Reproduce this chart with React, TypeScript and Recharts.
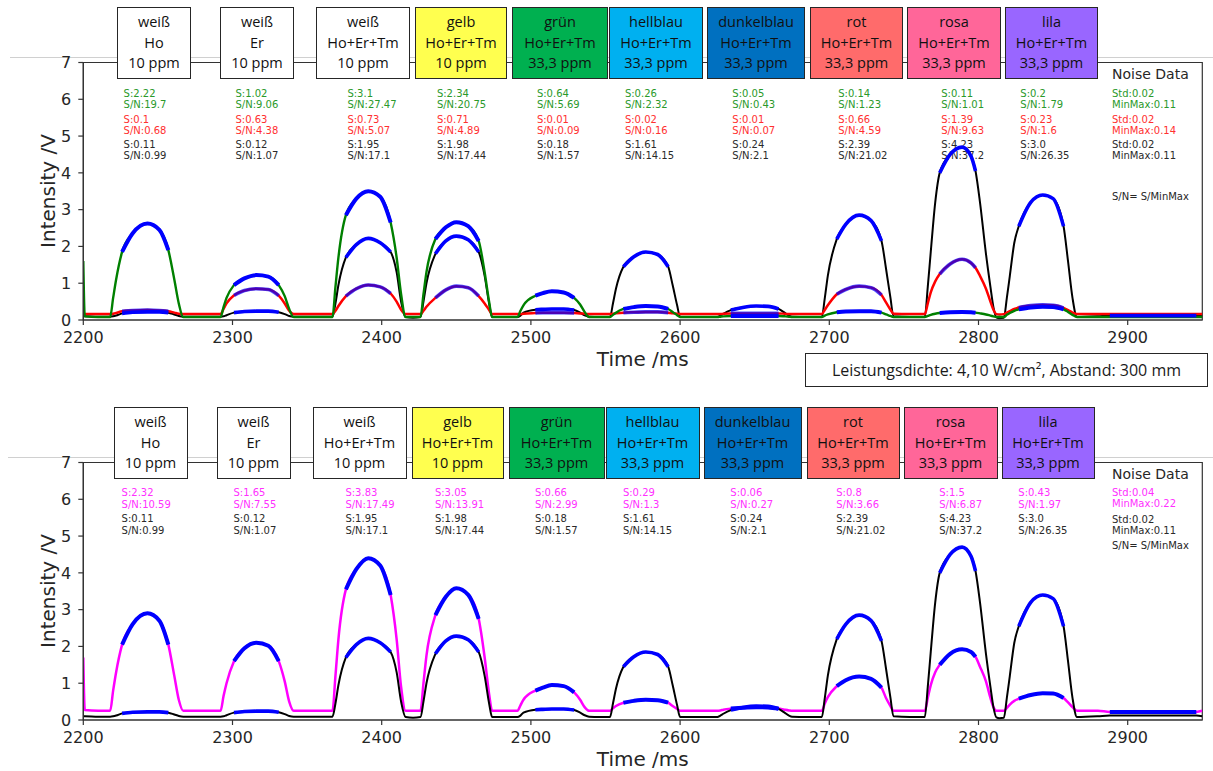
import React from 'react';
import { LineChart, Line, XAxis, YAxis, ReferenceArea } from 'recharts';

// ---------------- data ----------------
const TIME = [
  2200, 2201, 2210,
  2218, 2220, 2222, 2226, 2233, 2243, 2251, 2257, 2261, 2264, 2267,
  2280,
  2292, 2294, 2296, 2301, 2308, 2316, 2324, 2331, 2335, 2338, 2341,
  2355,
  2367, 2369, 2371, 2376, 2383, 2391, 2399, 2406, 2410, 2413, 2416,
  2421,
  2426, 2428, 2430, 2436, 2443, 2450, 2458, 2465, 2469, 2472, 2474,
  2483,
  2491, 2493, 2495, 2503, 2508, 2514, 2522, 2529, 2533, 2536, 2539,
  2546,
  2553, 2555, 2557, 2562, 2569, 2577, 2585, 2592, 2595, 2598, 2600,
  2612,
  2625, 2627, 2629, 2634, 2642, 2651, 2659, 2666, 2670, 2673, 2675,
  2685,
  2695, 2697, 2699, 2705, 2711, 2720, 2728, 2735, 2738, 2741, 2743,
  2754,
  2764, 2766, 2768, 2771, 2774, 2781, 2789, 2795, 2798, 2801, 2805, 2808, 2810, 2812,
  2814,
  2817, 2819, 2821, 2824, 2827, 2835, 2843, 2850, 2857, 2860, 2863, 2866,
  2880, 2888, 2900, 2920, 2946, 2950,
];

const GREEN = [
  1.6, 0.1, 0.08,
  0.08, 0.6, 1.1, 1.85, 2.35, 2.62, 2.45, 1.9, 1.1, 0.45, 0.08,
  0.08,
  0.08, 0.35, 0.6, 0.95, 1.13, 1.22, 1.18, 0.95, 0.65, 0.3, 0.08,
  0.08,
  0.08, 0.9, 1.7, 2.85, 3.3, 3.5, 3.35, 2.65, 1.7, 0.7, 0.08,
  0.08,
  0.08, 0.7, 1.3, 2.2, 2.52, 2.66, 2.55, 2.15, 1.3, 0.5, 0.08,
  0.08,
  0.08, 0.25, 0.4, 0.66, 0.73, 0.78, 0.75, 0.6, 0.42, 0.22, 0.08,
  0.08,
  0.08, 0.14, 0.2, 0.3, 0.35, 0.38, 0.37, 0.3, 0.22, 0.13, 0.08,
  0.08,
  0.08, 0.09, 0.1, 0.11, 0.11, 0.11, 0.11, 0.11, 0.1, 0.09, 0.08,
  0.08,
  0.08, 0.12, 0.15, 0.21, 0.23, 0.24, 0.24, 0.2, 0.15, 0.11, 0.08,
  0.08,
  0.08, 0.11, 0.14, 0.17, 0.19, 0.21, 0.22, 0.21, 0.2, 0.18, 0.15, 0.12, 0.1, 0.08,
  0.08,
  0.08, 0.14, 0.19, 0.25, 0.29, 0.34, 0.36, 0.35, 0.29, 0.22, 0.14, 0.08,
  0.08, 0.08, 0.08, 0.08, 0.08, 0.08,
];

const RED = [
  0.16, 0.16, 0.16,
  0.16, 0.17, 0.19, 0.24, 0.26, 0.27, 0.26, 0.24, 0.2, 0.17, 0.16,
  0.16,
  0.16, 0.3, 0.45, 0.67, 0.8, 0.85, 0.83, 0.66, 0.45, 0.25, 0.16,
  0.16,
  0.16, 0.25, 0.38, 0.65, 0.85, 0.95, 0.9, 0.72, 0.5, 0.28, 0.16,
  0.16,
  0.16, 0.25, 0.36, 0.6, 0.82, 0.92, 0.88, 0.65, 0.45, 0.27, 0.16,
  0.16,
  0.16, 0.16, 0.17, 0.19, 0.2, 0.2, 0.2, 0.19, 0.18, 0.17, 0.16,
  0.16,
  0.16, 0.17, 0.18, 0.2, 0.21, 0.22, 0.22, 0.2, 0.18, 0.17, 0.16,
  0.16,
  0.16, 0.16, 0.17, 0.18, 0.18, 0.18, 0.18, 0.18, 0.17, 0.16, 0.16,
  0.16,
  0.16, 0.28, 0.4, 0.7, 0.83, 0.92, 0.88, 0.68, 0.48, 0.28, 0.17,
  0.16,
  0.16, 0.45, 0.75, 1.05, 1.25, 1.52, 1.65, 1.55, 1.42, 1.2, 0.85, 0.5, 0.28, 0.16,
  0.15,
  0.16, 0.2, 0.24, 0.3, 0.34, 0.39, 0.41, 0.4, 0.33, 0.27, 0.2, 0.16,
  0.16, 0.16, 0.16, 0.16, 0.16, 0.16,
];

const BLACK = [
  0.1, 0.1, 0.09,
  0.09, 0.1, 0.12, 0.18, 0.21, 0.22, 0.22, 0.2, 0.15, 0.11, 0.09,
  0.09,
  0.09, 0.1, 0.13, 0.2, 0.23, 0.24, 0.24, 0.21, 0.16, 0.11, 0.09,
  0.09,
  0.09, 0.45, 0.95, 1.7, 2.05, 2.22, 2.1, 1.85, 1.3, 0.5, 0.08,
  0.06,
  0.08, 0.5, 1.0, 1.8, 2.15, 2.28, 2.18, 1.85, 1.2, 0.45, 0.08,
  0.08,
  0.08, 0.12, 0.2, 0.28, 0.29, 0.3, 0.3, 0.27, 0.2, 0.13, 0.09,
  0.08,
  0.08, 0.45, 0.85, 1.45, 1.72, 1.85, 1.78, 1.45, 0.95, 0.4, 0.08,
  0.08,
  0.08, 0.12, 0.17, 0.27, 0.34, 0.38, 0.37, 0.3, 0.2, 0.12, 0.09,
  0.08,
  0.08, 0.6, 1.2, 2.2, 2.6, 2.85, 2.7, 2.15, 1.4, 0.6, 0.1,
  0.08,
  0.08, 0.9, 1.85, 3.2, 4.0, 4.5, 4.7, 4.45, 4.05, 3.2, 1.8, 0.9, 0.35, 0.07,
  0.05,
  0.06, 0.6, 1.2, 2.1, 2.55, 3.2, 3.4, 3.3, 2.55, 1.6, 0.6, 0.08,
  0.1, 0.12, 0.12, 0.12, 0.12, 0.1,
];

const MAGENTA = [
  1.7, 0.27, 0.25,
  0.25, 0.8, 1.3, 2.05, 2.6, 2.9, 2.7, 2.05, 1.2, 0.55, 0.25,
  0.25,
  0.25, 0.65, 1.0, 1.6, 1.95, 2.1, 2.02, 1.6, 1.05, 0.5, 0.25,
  0.25,
  0.25, 1.2, 2.2, 3.55, 4.1, 4.4, 4.2, 3.4, 2.2, 0.9, 0.25,
  0.25,
  0.25, 1.0, 1.75, 2.85, 3.35, 3.58, 3.4, 2.75, 1.7, 0.7, 0.25,
  0.25,
  0.25, 0.4, 0.55, 0.8, 0.88, 0.95, 0.92, 0.75, 0.55, 0.35, 0.25,
  0.25,
  0.25, 0.32, 0.38, 0.47, 0.52, 0.55, 0.54, 0.47, 0.38, 0.3, 0.25,
  0.25,
  0.25, 0.26, 0.28, 0.31, 0.33, 0.35, 0.34, 0.31, 0.28, 0.26, 0.25,
  0.25,
  0.25, 0.45, 0.62, 0.92, 1.08, 1.18, 1.12, 0.88, 0.6, 0.38, 0.25,
  0.25,
  0.25, 0.6, 0.95, 1.3, 1.5, 1.8, 1.92, 1.85, 1.72, 1.45, 1.05, 0.6, 0.35, 0.25,
  0.25,
  0.25, 0.33, 0.42, 0.52, 0.58, 0.68, 0.73, 0.72, 0.6, 0.48, 0.35, 0.25,
  0.25, 0.22, 0.22, 0.22, 0.22, 0.25,
];

// measurement windows (signal) and noise window, ms
const WINDOWS = [
  [2226, 2257], [2301, 2331], [2376, 2406], [2436, 2465], [2503, 2529],
  [2562, 2592], [2634, 2666], [2705, 2735], [2774, 2798], [2827, 2857],
];
const NOISE_WINDOW = [2888, 2946];

const X_TICKS = [2200, 2300, 2400, 2500, 2600, 2700, 2800, 2900];
const Y_TICKS = [0, 1, 2, 3, 4, 5, 6, 7];

// sample boxes
const SAMPLE_NAME = ['weiß', 'weiß', 'weiß', 'gelb', 'grün', 'hellblau', 'dunkelblau', 'rot', 'rosa', 'lila'];
const SAMPLE_MIX = ['Ho', 'Er', 'Ho+Er+Tm', 'Ho+Er+Tm', 'Ho+Er+Tm', 'Ho+Er+Tm', 'Ho+Er+Tm', 'Ho+Er+Tm', 'Ho+Er+Tm', 'Ho+Er+Tm'];
const SAMPLE_CONC = ['10 ppm', '10 ppm', '10 ppm', '10 ppm', '33,3 ppm', '33,3 ppm', '33,3 ppm', '33,3 ppm', '33,3 ppm', '33,3 ppm'];

// signal / S/N annotations
const GREEN_S = ['2.22', '1.02', '3.1', '2.34', '0.64', '0.26', '0.05', '0.14', '0.11', '0.2'];
const GREEN_SN = ['19.7', '9.06', '27.47', '20.75', '5.69', '2.32', '0.43', '1.23', '1.01', '1.79'];
const RED_S = ['0.1', '0.63', '0.73', '0.71', '0.01', '0.02', '0.01', '0.66', '1.39', '0.23'];
const RED_SN = ['0.68', '4.38', '5.07', '4.89', '0.09', '0.16', '0.07', '4.59', '9.63', '1.6'];
const BLACK_S = ['0.11', '0.12', '1.95', '1.98', '0.18', '1.61', '0.24', '2.39', '4.23', '3.0'];
const BLACK_SN = ['0.99', '1.07', '17.1', '17.44', '1.57', '14.15', '2.1', '21.02', '37.2', '26.35'];
const MAGENTA_S = ['2.32', '1.65', '3.83', '3.05', '0.66', '0.29', '0.06', '0.8', '1.5', '0.43'];
const MAGENTA_SN = ['10.59', '7.55', '17.49', '13.91', '2.99', '1.3', '0.27', '3.66', '6.87', '1.97'];

const NOISE_GREEN = ['0.02', '0.11'];
const NOISE_RED = ['0.02', '0.14'];
const NOISE_BLACK = ['0.02', '0.11'];
const NOISE_MAGENTA = ['0.04', '0.22'];

// ---------------- layout / style ----------------
const W = 1213;
const PANEL_H = 400;
const PLOT_LEFT = 83.3;
const PLOT_RIGHT = 1202.3;
const PLOT_TOP = 62.5;
const PLOT_BOTTOM = 320;
const X_MIN = 2200;
const X_MAX = 2950;

const BOX_LEFT = [117, 220, 316, 415, 512, 609, 707, 810, 907, 1005];
const BOX_WIDTH = [74, 74, 94, 92, 96, 94, 98, 93, 94, 93];
const BOX_FILL = ['#ffffff', '#ffffff', '#ffffff', '#ffff4f', '#00b050', '#00b0f0', '#0070c0', '#ff6b6b', '#ff6699', '#9966ff'];

const C_GREEN = '#008000';
const C_RED = '#ff0000';
const C_BLACK = '#000000';
const C_BLUE = '#0000ff';
const C_MAGENTA = '#ff00ff';
const T_GREEN = '#2a992a';
const T_RED = '#ff3030';
const T_BLACK = '#2a2a2a';
const T_MAGENTA = '#ff30ff';
const AX = '#333333';
const DEJAVU = "'DejaVu Sans', sans-serif";
const OPEN = "'Open Sans', sans-serif";

const xOf = (t: number) => PLOT_LEFT + ((t - X_MIN) / (X_MAX - X_MIN)) * (PLOT_RIGHT - PLOT_LEFT);
const inWin = (t: number) => WINDOWS.some(([a, b]) => t >= a && t <= b);
const inNoise = (t: number) => t >= NOISE_WINDOW[0] && t <= NOISE_WINDOW[1];

const topRows = TIME.map((t, i) => ({
  t,
  g: GREEN[i],
  r: RED[i],
  k: BLACK[i],
  gB: inWin(t) ? GREEN[i] : null,
  rB: inWin(t) ? RED[i] : null,
  kB: inWin(t) || inNoise(t) ? BLACK[i] : null,
}));

const bottomRows = TIME.map((t, i) => ({
  t,
  m: MAGENTA[i],
  k: BLACK[i],
  mB: inWin(t) || inNoise(t) ? MAGENTA[i] : null,
  kB: inWin(t) ? BLACK[i] : null,
}));

type LineDef = { key: string; color: string; width: number; opacity?: number };

const TOP_LINES: LineDef[] = [
  { key: 'k', color: C_BLACK, width: 2 },
  { key: 'r', color: C_RED, width: 2.5 },
  { key: 'g', color: C_GREEN, width: 2.4 },
  { key: 'kB', color: C_BLUE, width: 3.6 },
  { key: 'rB', color: C_BLUE, width: 3.6, opacity: 0.7 },
  { key: 'gB', color: C_BLUE, width: 4 },
];

const BOTTOM_LINES: LineDef[] = [
  { key: 'm', color: C_MAGENTA, width: 2.5 },
  { key: 'k', color: C_BLACK, width: 2 },
  { key: 'mB', color: C_BLUE, width: 4 },
  { key: 'kB', color: C_BLUE, width: 3.6 },
];

const tickStyle = { fontSize: 16, fill: '#262626', fontFamily: DEJAVU };

function Panel({ rows, lines }: { rows: any[]; lines: LineDef[] }) {
  return (
    <LineChart
      width={W}
      height={PANEL_H}
      data={rows}
      margin={{ top: PLOT_TOP, right: W - PLOT_RIGHT, bottom: 0, left: 0 }}
    >
      <XAxis
        type="number"
        dataKey="t"
        domain={[X_MIN, X_MAX]}
        ticks={X_TICKS}
        interval={0}
        allowDataOverflow
        height={PANEL_H - PLOT_BOTTOM}
        tickSize={5}
        tickMargin={7}
        tick={tickStyle}
        axisLine={{ stroke: AX, strokeWidth: 1.2 }}
        tickLine={{ stroke: AX, strokeWidth: 1.2 }}
      />
      <YAxis
        type="number"
        domain={[0, 7]}
        ticks={Y_TICKS}
        interval={0}
        allowDataOverflow
        width={PLOT_LEFT}
        tickSize={5}
        tickMargin={7}
        tick={tickStyle}
        axisLine={{ stroke: AX, strokeWidth: 1.2 }}
        tickLine={{ stroke: AX, strokeWidth: 1.2 }}
      />
      <ReferenceArea x1={X_MIN} x2={X_MAX} y1={0} y2={7} fill="none" stroke={AX} strokeWidth={1.2} ifOverflow="visible" />
      {lines.map((l) => (
        <Line
          key={l.key}
          dataKey={l.key}
          type="monotone"
          stroke={l.color}
          strokeWidth={l.width}
          strokeOpacity={l.opacity ?? 1}
          dot={false}
          activeDot={false}
          connectNulls={false}
          isAnimationActive={false}
        />
      ))}
    </LineChart>
  );
}

type TextRow = { values: string[]; prefix: string; color: string; y: number };

function Annotations({ top, rows, noise, dx, snY }: {
  top: number;
  rows: TextRow[];
  noise: { label: string; color: string; y: number }[];
  dx: number;
  snY: number;
}) {
  const base: React.CSSProperties = {
    position: 'absolute',
    fontFamily: DEJAVU,
    fontSize: 10,
    lineHeight: '11px',
    whiteSpace: 'nowrap',
  };
  const noiseX = 1112;
  return (
    <>
      {rows.map((row, ri) =>
        row.values.map((v, i) => (
          <div
            key={`${ri}-${i}`}
            style={{ ...base, left: xOf(WINDOWS[i][0]) + dx, top: top + row.y - 5.5, color: row.color }}
          >
            {row.prefix + v}
          </div>
        ))
      )}
      <div style={{ ...base, fontSize: 14, lineHeight: '16px', left: noiseX, top: top + 74 - 8, color: '#262626' }}>
        Noise Data
      </div>
      {noise.map((n, i) => (
        <div key={i} style={{ ...base, left: noiseX, top: top + n.y - 5.5, color: n.color }}>
          {n.label}
        </div>
      ))}
      <div style={{ ...base, left: noiseX, top: top + snY - 5.5, color: '#262626' }}>S/N= S/MinMax</div>
    </>
  );
}

function Boxes({ top, dx }: { top: number; dx: number }) {
  return (
    <>
      {SAMPLE_NAME.map((name, i) => (
        <div
          key={i}
          style={{
            position: 'absolute',
            left: BOX_LEFT[i] + dx,
            top: top + 6.7,
            width: BOX_WIDTH[i],
            height: 72.3,
            boxSizing: 'border-box',
            border: '1.5px solid #262626',
            background: BOX_FILL[i],
            display: 'flex',
            flexDirection: 'column',
            alignItems: 'center',
            justifyContent: 'center',
            fontFamily: OPEN,
            fontSize: 14.5,
            lineHeight: '20.5px',
            color: '#111',
            whiteSpace: 'nowrap',
          }}
        >
          <div>{name}</div>
          <div>{SAMPLE_MIX[i]}</div>
          <div>{SAMPLE_CONC[i]}</div>
        </div>
      ))}
    </>
  );
}

function AxisTitles({ top }: { top: number }) {
  const s: React.CSSProperties = {
    position: 'absolute',
    fontFamily: DEJAVU,
    fontSize: 20,
    color: '#262626',
    whiteSpace: 'nowrap',
    lineHeight: '24px',
  };
  return (
    <>
      <div
        style={{
          ...s,
          left: 48,
          top: top + (PLOT_TOP + PLOT_BOTTOM) / 2,
          transform: 'translate(-50%, -50%) rotate(-90deg)',
        }}
      >
        Intensity /V
      </div>
      <div
        style={{
          ...s,
          left: (PLOT_LEFT + PLOT_RIGHT) / 2,
          top: top + 359,
          transform: 'translate(-50%, -50%)',
        }}
      >
        Time /ms
      </div>
    </>
  );
}

export default function App() {
  return (
    <div
      style={{
        position: 'absolute',
        left: 0,
        top: 0,
        width: W,
        height: 771,
        background: '#ffffff',
        overflow: 'hidden',
      }}
    >
      {/* separator lines */}
      <div style={{ position: 'absolute', left: 10, top: 56.5, width: W - 10, height: 1, background: '#d0d0d0' }} />
      <div style={{ position: 'absolute', left: 8, top: 456.8, width: W - 8, height: 1, background: '#d0d0d0' }} />

      {/* annotations below the curves */}
      <div style={{ position: 'absolute', left: 0, top: 0, zIndex: 1 }}>
        <Annotations
          top={0}
          dx={1.5}
          rows={[
            { values: GREEN_S, prefix: 'S:', color: T_GREEN, y: 93.3 },
            { values: GREEN_SN, prefix: 'S/N:', color: T_GREEN, y: 104.3 },
            { values: RED_S, prefix: 'S:', color: T_RED, y: 119 },
            { values: RED_SN, prefix: 'S/N:', color: T_RED, y: 130 },
            { values: BLACK_S, prefix: 'S:', color: T_BLACK, y: 144.7 },
            { values: BLACK_SN, prefix: 'S/N:', color: T_BLACK, y: 155.7 },
          ]}
          noise={[
            { label: 'Std:' + NOISE_GREEN[0], color: T_GREEN, y: 93.3 },
            { label: 'MinMax:' + NOISE_GREEN[1], color: T_GREEN, y: 104.3 },
            { label: 'Std:' + NOISE_RED[0], color: T_RED, y: 119 },
            { label: 'MinMax:' + NOISE_RED[1], color: T_RED, y: 130 },
            { label: 'Std:' + NOISE_BLACK[0], color: T_BLACK, y: 144.7 },
            { label: 'MinMax:' + NOISE_BLACK[1], color: T_BLACK, y: 155.7 },
          ]}
          snY={196}
        />
        <Annotations
          top={400}
          dx={-0.5}
          rows={[
            { values: MAGENTA_S, prefix: 'S:', color: T_MAGENTA, y: 92.7 },
            { values: MAGENTA_SN, prefix: 'S/N:', color: T_MAGENTA, y: 104.3 },
            { values: BLACK_S, prefix: 'S:', color: T_BLACK, y: 118.7 },
            { values: BLACK_SN, prefix: 'S/N:', color: T_BLACK, y: 130 },
          ]}
          noise={[
            { label: 'Std:' + NOISE_MAGENTA[0], color: T_MAGENTA, y: 92.7 },
            { label: 'MinMax:' + NOISE_MAGENTA[1], color: T_MAGENTA, y: 103.7 },
            { label: 'Std:' + NOISE_BLACK[0], color: T_BLACK, y: 119 },
            { label: 'MinMax:' + NOISE_BLACK[1], color: T_BLACK, y: 130 },
          ]}
          snY={145.3}
        />
      </div>

      {/* charts */}
      <div style={{ position: 'absolute', left: 0, top: 0, zIndex: 2 }}>
        <Panel rows={topRows} lines={TOP_LINES} />
      </div>
      <div style={{ position: 'absolute', left: 0, top: PANEL_H, zIndex: 2 }}>
        <Panel rows={bottomRows} lines={BOTTOM_LINES} />
      </div>

      {/* titles and boxes on top */}
      <div style={{ position: 'absolute', left: 0, top: 0, zIndex: 3 }}>
        <AxisTitles top={0} />
        <AxisTitles top={PANEL_H} />
        <Boxes top={0} dx={0} />
        <Boxes top={PANEL_H} dx={-3.5} />
        <div
          style={{
            position: 'absolute',
            left: 805,
            top: 352.7,
            width: 403,
            height: 34,
            boxSizing: 'border-box',
            border: '1.5px solid #262626',
            background: '#ffffff',
            display: 'flex',
            alignItems: 'center',
            justifyContent: 'center',
            fontFamily: OPEN,
            fontSize: 16,
            color: '#1a1a1a',
            whiteSpace: 'nowrap',
          }}
        >
          Leistungsdichte: 4,10 W/cm², Abstand: 300 mm
        </div>
      </div>
    </div>
  );
}
